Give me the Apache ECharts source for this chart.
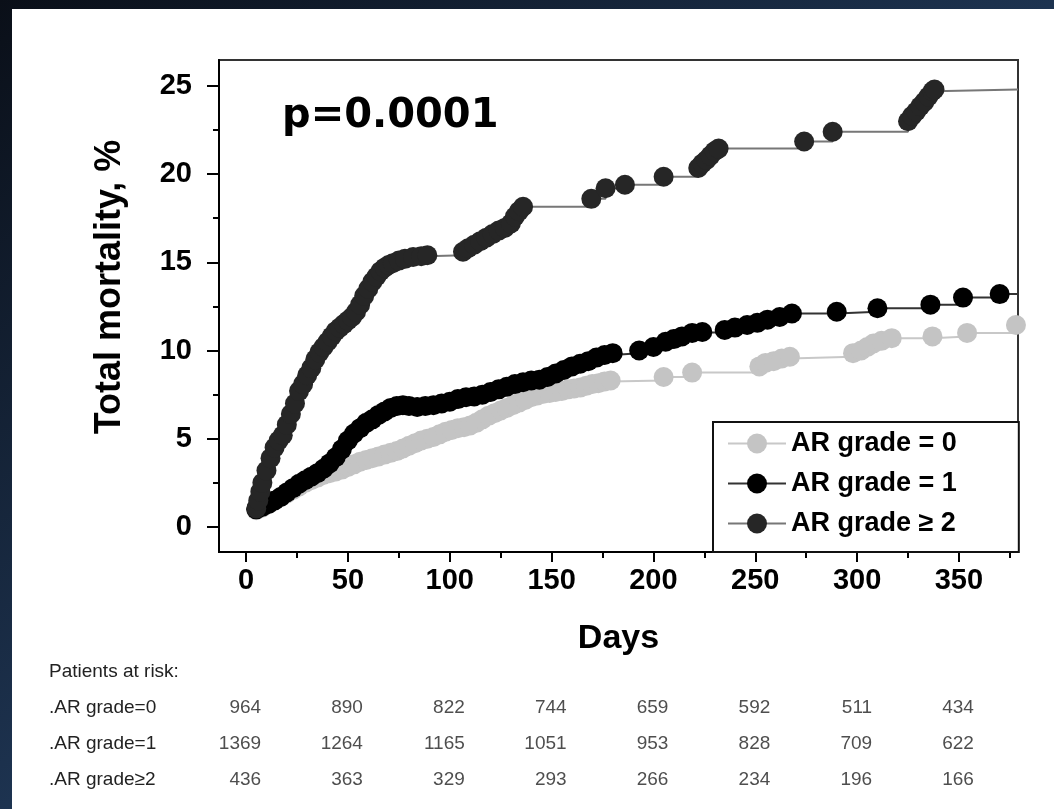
<!DOCTYPE html>
<html>
<head>
<meta charset="utf-8">
<script src="https://cdn.jsdelivr.net/npm/echarts@6/dist/echarts.min.js"></script>
<style>
html, body { margin: 0; padding: 0; width: 1054px; height: 809px; overflow: hidden;
  background: linear-gradient(to bottom right, #0a0f18 0%, #1d3350 50%, #3d6594 100%); }
#chart { position: absolute; left: 12px; top: 9px; width: 1042px; height: 800px; background: #fff; }
</style>
</head>
<body>
<div id="chart"></div>
<script>
// cumulative mortality (%), [day, pct]
const grade0 = [[5,0.95],[8,1.1],[11,1.3],[14,1.5],[17,1.7],[20,1.9],[23,2.1],[26,2.3],[29,2.5],[32,2.65],[35,2.8],[38,2.95],[41,3.05],[44,3.15],[47,3.25],[50,3.4],[53,3.55],[56,3.7],[59,3.8],[62,3.9],[65,4.0],[68,4.1],[71,4.2],[74,4.3],[77,4.45],[80,4.6],[83,4.75],[86,4.9],[89,5.0],[92,5.1],[95,5.25],[98,5.4],[101,5.5],[104,5.6],[107,5.65],[110,5.75],[113,5.9],[116,6.1],[119,6.3],[122,6.45],[125,6.6],[128,6.75],[131,6.9],[134,7.05],[137,7.2],[140,7.35],[143,7.45],[146,7.55],[149,7.6],[152,7.65],[155,7.7],[158,7.8],[161,7.85],[164,7.9],[167,8.0],[170,8.1],[173,8.15],[176,8.25],[179,8.3],[205,8.5],[219,8.75],[252,9.1],[255,9.3],[259,9.4],[263,9.55],[267,9.65],[298,9.85],[302,10.0],[305,10.2],[308,10.4],[312,10.55],[317,10.7],[337,10.8],[354,11.0],[378,11.45]];
const grade1 = [[5,1.0],[8,1.15],[11,1.3],[14,1.5],[17,1.7],[20,1.95],[23,2.2],[26,2.45],[29,2.65],[32,2.85],[35,3.05],[38,3.3],[41,3.6],[44,3.95],[47,4.4],[50,4.9],[53,5.3],[56,5.6],[59,5.9],[62,6.1],[65,6.35],[68,6.55],[71,6.75],[74,6.85],[77,6.9],[80,6.85],[84,6.8],[88,6.85],[92,6.9],[96,7.0],[100,7.1],[104,7.25],[108,7.35],[112,7.4],[116,7.5],[120,7.65],[124,7.8],[128,7.95],[132,8.1],[136,8.2],[140,8.3],[144,8.35],[148,8.5],[152,8.7],[156,8.9],[160,9.1],[164,9.25],[168,9.4],[172,9.6],[176,9.75],[180,9.85],[193,10.0],[200,10.2],[206,10.5],[210,10.65],[214,10.8],[219,11.0],[224,11.05],[235,11.17],[240,11.3],[246,11.45],[251,11.57],[256,11.75],[262,11.9],[268,12.1],[290,12.2],[310,12.4],[336,12.6],[352,13.0],[370,13.2]];
const grade2 = [[5,1.05],[6,1.5],[7,2.0],[8,2.5],[10,3.2],[12,3.9],[14,4.5],[16,4.9],[18,5.2],[20,5.8],[22,6.4],[24,7.0],[26,7.7],[28,8.1],[30,8.6],[32,9.0],[34,9.5],[36,9.9],[38,10.2],[40,10.5],[42,10.8],[44,11.1],[46,11.3],[48,11.5],[50,11.7],[52,11.9],[54,12.2],[56,12.6],[58,13.1],[60,13.5],[62,13.9],[64,14.2],[66,14.5],[68,14.7],[70,14.85],[72,14.95],[75,15.1],[78,15.2],[82,15.3],[86,15.35],[89,15.4],[106.5,15.6],[109,15.8],[112,16.0],[115,16.2],[118,16.4],[121,16.6],[124,16.8],[127,16.95],[130,17.2],[132,17.6],[134,17.9],[136,18.15],[169.5,18.6],[176.5,19.2],[186,19.4],[205,19.85],[222,20.35],[224,20.6],[226,20.8],[228,21.05],[230,21.3],[232,21.45],[274,21.85],[288,22.4],[325,23.0],[327,23.3],[329,23.55],[331,23.85],[333,24.1],[335,24.4],[337,24.7],[338,24.8]];

const seriesNames = ['AR grade = 0', 'AR grade = 1', 'AR grade \u2265 2'];

// patients at risk table
const riskRows = ['Patients at risk:', '.AR grade=0', '.AR grade=1', '.AR grade\u22652'];
const riskDays = [0, 50, 100, 150, 200, 250, 300, 350];
const risk0 = [964, 890, 822, 744, 659, 592, 511, 434];
const risk1 = [1369, 1264, 1165, 1051, 953, 828, 709, 622];
const risk2 = [436, 363, 329, 293, 266, 234, 196, 166];

const xMajor = [0, 50, 100, 150, 200, 250, 300, 350];
const xMinor = [25, 75, 125, 175, 225, 275, 325, 375];
const yMajor = [0, 5, 10, 15, 20, 25];
const yMinor = [2.5, 7.5, 12.5, 17.5, 22.5];

const X_MIN = -13.3, X_MAX = 379;
const Y_MIN = -1.42, Y_MAX = 26.47;

const chart = echarts.init(document.getElementById('chart'));

function kmSeries(name, pts, color, lineColor, tail) {
    let data = pts.slice();
    if (tail) data.push({ value: [X_MAX, pts[pts.length - 1][1]], symbolSize: 0 });
    return {
        name, type: 'line', step: 'end', data,
        symbol: 'circle', symbolSize: 20, showAllSymbol: true,
        itemStyle: { color },
        lineStyle: { color: lineColor, width: 2 },
        emphasis: { disabled: true },
        silent: true
    };
}

let riskData = [];
[risk0, risk1, risk2].forEach((row, i) => {
    row.forEach((n, j) => riskData.push([riskDays[j], riskRows[i + 1], n]));
});

const boldFont = 'Liberation Sans';

chart.setOption({
    animation: false,
    title: {
        text: 'p=0.0001', left: 270, top: 88, padding: 0,
        textStyle: { fontFamily: 'DejaVu Sans', fontWeight: 'bold', fontSize: 40, color: '#000' }
    },
    legend: {
        data: seriesNames, orient: 'vertical', left: 701, top: 413,
        itemWidth: 58, itemHeight: 25, itemGap: 13,
        padding: [8, 62, 15, 14],
        borderColor: '#111', borderWidth: 2, backgroundColor: '#fff',
        textStyle: { fontFamily: boldFont, fontWeight: 'bold', fontSize: 27, color: '#000' }
    },
    graphic: [{
        type: 'text', x: 98, y: 278, rotation: Math.PI / 2,
        style: {
            text: 'Total mortality, %', font: 'bold 36px "Liberation Sans"', fill: '#000',
            textAlign: 'center', textVerticalAlign: 'middle', align: 'center', verticalAlign: 'middle'
        }
    }],
    grid: [
        { left: 207, top: 51, width: 799, height: 492, show: true, borderColor: '#333', borderWidth: 2 },
        { left: 207, top: 51, width: 799, height: 492 },
        { left: 207, top: 645, width: 799, height: 144 }
    ],
    xAxis: [{
        gridIndex: 0, type: 'value', min: X_MIN, max: X_MAX,
        name: 'Days', nameLocation: 'middle', nameGap: 70,
        nameTextStyle: { fontFamily: boldFont, fontWeight: 'bold', fontSize: 34, color: '#000' },
        axisLine: { onZero: false, lineStyle: { color: '#000', width: 2 } },
        axisTick: { customValues: xMajor, length: 10, lineStyle: { color: '#000', width: 2 } },
        axisLabel: { customValues: xMajor, margin: 14, fontFamily: boldFont, fontWeight: 'bold', fontSize: 29, color: '#000' },
        splitLine: { show: false }
    }, {
        gridIndex: 1, type: 'value', min: X_MIN, max: X_MAX,
        axisLine: { show: false, onZero: false },
        axisTick: { customValues: xMinor, length: 6, lineStyle: { color: '#000', width: 2 } },
        axisLabel: { show: false },
        splitLine: { show: false }
    }, {
        gridIndex: 2, type: 'value', min: X_MIN, max: X_MAX, show: false
    }],
    yAxis: [{
        gridIndex: 0, type: 'value', min: Y_MIN, max: Y_MAX,
        axisLine: { show: true, onZero: false, lineStyle: { color: '#000', width: 2 } },
        axisTick: { show: true, customValues: yMajor, length: 12, lineStyle: { color: '#000', width: 2 } },
        axisLabel: { customValues: yMajor, margin: 27, fontFamily: boldFont, fontWeight: 'bold', fontSize: 29, color: '#000' },
        splitLine: { show: false }
    }, {
        gridIndex: 1, type: 'value', min: Y_MIN, max: Y_MAX,
        axisLine: { show: false, onZero: false },
        axisTick: { show: true, customValues: yMinor, length: 6, lineStyle: { color: '#000', width: 2 } },
        axisLabel: { show: false },
        splitLine: { show: false }
    }, {
        gridIndex: 2, type: 'category', data: riskRows, inverse: true,
        axisLine: { show: false }, axisTick: { show: false },
        axisLabel: { align: 'left', margin: 170, fontFamily: 'Liberation Sans', fontSize: 19, color: '#222' }
    }],
    series: [
        kmSeries(seriesNames[0], grade0, '#c4c4c4', '#c8c8c8', false),
        kmSeries(seriesNames[1], grade1, '#000000', '#333333', true),
        kmSeries(seriesNames[2], grade2, '#262626', '#777777', true),
        {
            type: 'scatter', xAxisIndex: 2, yAxisIndex: 2, data: riskData,
            symbolSize: 0, silent: true,
            label: {
                show: true, position: 'inside', align: 'right', offset: [15, 0],
                formatter: p => p.value[2],
                fontFamily: 'Liberation Sans', fontSize: 19, color: '#222'
            }
        }
    ]
});
</script>
</body>
</html>
